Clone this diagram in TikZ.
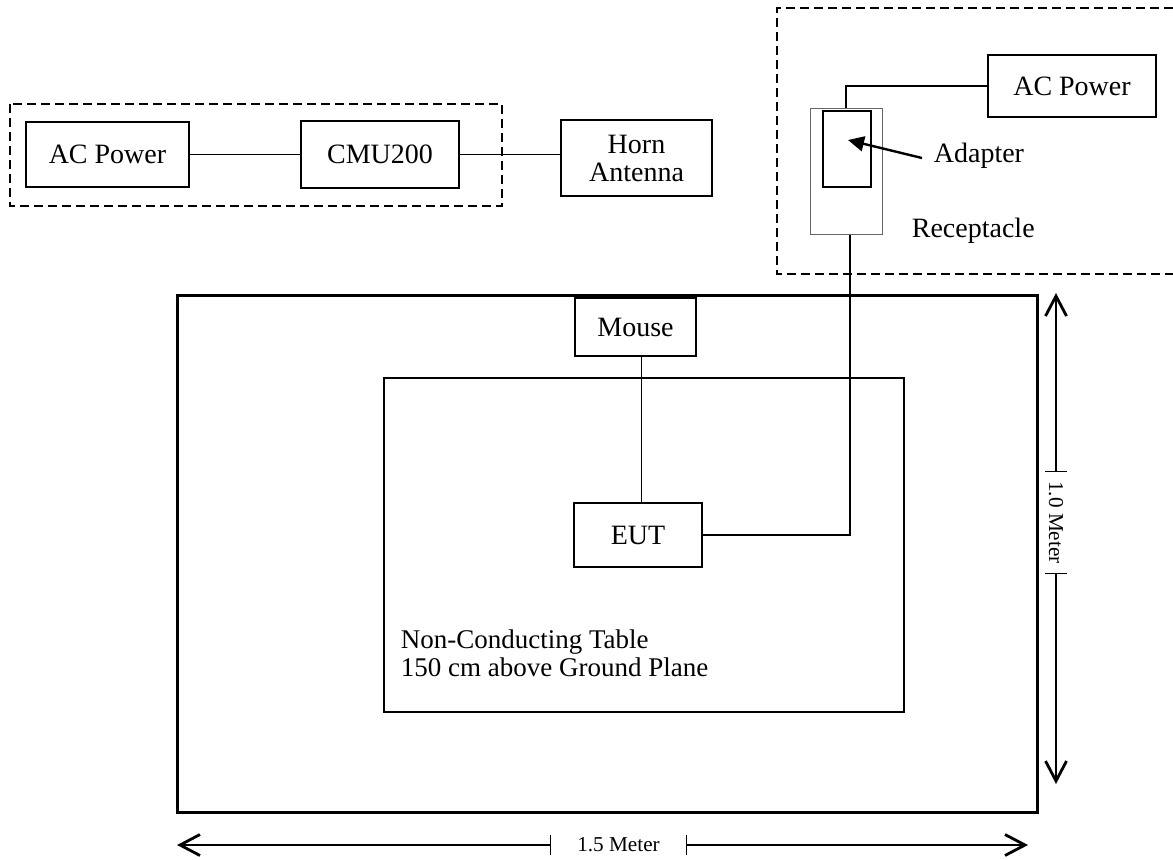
\documentclass[tikz,border=0pt]{standalone}
\usepackage{fontspec}
\setmainfont{Liberation Serif}
\usetikzlibrary{positioning,calc,arrows.meta}

\begin{document}
\begin{tikzpicture}[x=0.5pt, y=-0.5pt, line width=0.85pt,
    box/.style={draw, line width=0.9pt, inner sep=0pt, font=\fontsize{14}{14}\selectfont},
    lbl/.style={inner sep=0pt, font=\fontsize{14}{14}\selectfont},
    grp/.style={dash pattern=on 4.5pt off 2.5pt, line width=0.8pt},
    dimarrow/.style={line width=0.75pt, -{Straight Barb[length=10pt,width=10.5pt,line width=1.4pt]}},
    dimlbl/.style={inner ysep=0pt, font=\fontsize{10.6}{12}\selectfont}]
    \useasboundingbox (0,0) rectangle (1173,859);

    % test equipment group
    \draw[grp] (10,104) rectangle (502,206);
    \node[box, minimum width=81.5pt, minimum height=32.5pt] (acL) at (107.5,154.5) {AC Power};
    \node[box, minimum width=79pt, minimum height=33.5pt] (cmu) at (380,154.5) {CMU200};
    \node[box, minimum width=75.5pt, minimum height=38pt, align=center] (horn) at (636.5,158) {Horn\\Antenna};
    \draw (acL) -- (cmu);
    \draw (cmu.east) -- (cmu.east -| horn.west);

    % mains group
    \draw[grp] (1173,8) -| (777,274) -- (1173,274);
    \node[box, minimum width=84pt, minimum height=31pt] (acR) at (1072,86) {AC Power};
    \node[draw=black!60, line width=0.5pt, inner sep=0pt, minimum width=36pt, minimum height=63pt] (recept) at (846,171) {};
    \node[draw, line width=0.9pt, inner sep=0pt, minimum width=24pt, minimum height=38pt] (adapter) at (847,149) {};
    \node[lbl, anchor=west] (adlbl) at (933,156) {Adapter};
    \node[lbl, anchor=west] (reclbl) at (911,231) {Receptacle};
    \coordinate (adtip) at (848,140);
    \draw[line width=1.2pt, -{Triangle[length=8pt,width=7.5pt]}] ($(adlbl.west)+(-11,2)$) -- (adtip);
    \draw (recept.north) |- (acR.west);

    % ground plane and table
    \node[draw, line width=1.5pt, inner sep=0pt, minimum width=430pt, minimum height=258.5pt] (plane) at (607,553.5) {};
    \node[draw, line width=0.9pt, inner sep=0pt, minimum width=260pt, minimum height=167pt] (table) at (644,545) {};
    \node[box, minimum width=60.5pt, minimum height=29pt] (mouse) at (635.5,327) {Mouse};
    \node[box, minimum width=64pt, minimum height=32pt] (eut) at (638,535) {EUT};
    \node[lbl, anchor=north west, align=left, font=\fontsize{13.5}{14}\selectfont] (tbllbl) at (400,629) {Non-Conducting Table\\150 cm above Ground Plane};
    \draw ([xshift=3pt]mouse.south) -- ([xshift=3pt]mouse.south |- eut.north);
    \draw ([xshift=2pt]recept.south) |- (eut.east);

    % dimensions
    \coordinate (vtop) at (1056,293);
    \coordinate (vbot) at (1056,784);
    \node[dimlbl, rotate=-90, inner xsep=4.5pt] (vlbl) at (1056,522.5) {1.0 Meter};
    \draw[dimarrow] (vlbl.west) -- (vtop);
    \draw[dimarrow] (vlbl.east) -- (vbot);
    \draw ($(vlbl.west)+(-11,0)$) -- ($(vlbl.west)+(11,0)$);
    \draw ($(vlbl.east)+(-11,0)$) -- ($(vlbl.east)+(11,0)$);

    \coordinate (hleft) at (177,845);
    \coordinate (hright) at (1028,845);
    \node[dimlbl, inner xsep=13pt] (hlbl) at (618.5,845) {1.5 Meter};
    \draw[dimarrow] (hlbl.west) -- (hleft);
    \draw[dimarrow] (hlbl.east) -- (hright);
    \draw ($(hlbl.west)+(0,-10)$) -- ($(hlbl.west)+(0,10)$);
    \draw ($(hlbl.east)+(0,-10)$) -- ($(hlbl.east)+(0,10)$);
\end{tikzpicture}
\end{document}
